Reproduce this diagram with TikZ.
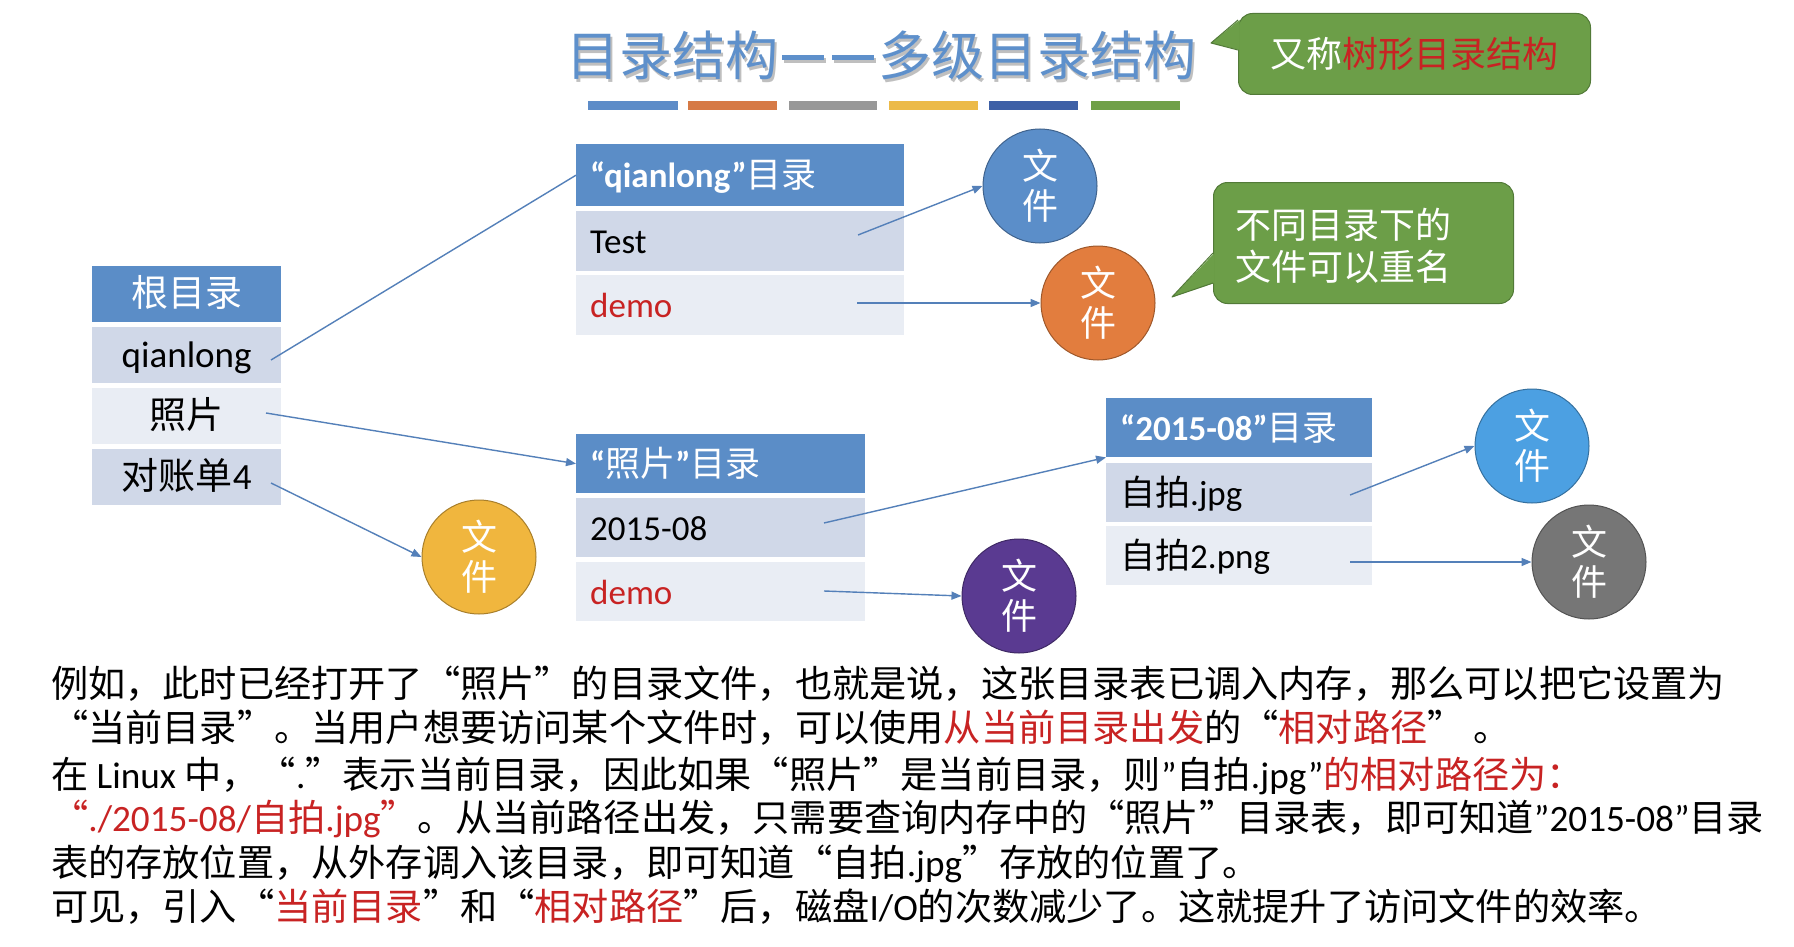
\documentclass[tikz,border=0pt]{standalone}
\usepackage{fontspec}
\setmainfont{Noto Sans CJK SC}
\newfontfamily\lat{Carlito}
\usetikzlibrary{arrows.meta}
\definecolor{hdr}{RGB}{91,141,199}
\definecolor{rowA}{RGB}{208,216,232}
\definecolor{rowB}{RGB}{233,237,244}
\definecolor{ttl}{RGB}{94,144,203}
\definecolor{redt}{RGB}{200,35,35}
\definecolor{arr}{RGB}{84,128,185}
\definecolor{grn}{RGB}{108,158,72}
\definecolor{grnD}{RGB}{82,122,56}
\definecolor{cblue}{RGB}{91,142,201}
\definecolor{corange}{RGB}{226,125,62}
\definecolor{cyellow}{RGB}{240,182,62}
\definecolor{cpurple}{RGB}{90,58,145}
\definecolor{clblue}{RGB}{76,160,226}
\definecolor{cgray}{RGB}{118,118,118}
\definecolor{bar1}{RGB}{93,140,200}
\definecolor{bar2}{RGB}{214,122,70}
\definecolor{bar3}{RGB}{152,152,152}
\definecolor{bar4}{RGB}{236,186,72}
\definecolor{bar5}{RGB}{62,96,166}
\definecolor{bar6}{RGB}{112,160,72}
\newcommand\myfs[1]{\fontsize{#1pt}{#1pt}\selectfont}
\newcommand\ttldash{\makebox[50pt]{\rule[15pt]{42pt}{5pt}}}
\begin{document}
\begin{tikzpicture}[x=1pt,y=-1pt,
  cellbase/.style={anchor=north west, inner ysep=0pt, text height=30pt, text depth=5pt},
  hcell/.style={cellbase, fill=hdr, text=white, inner xsep=14pt, align=left, font=\myfs{35}},
  acell/.style={cellbase, fill=rowA, text=black, inner xsep=14pt, align=left, font=\myfs{35}},
  bcell/.style={cellbase, fill=rowB, text=black, inner xsep=14pt, align=left, font=\myfs{35}},
  rhcell/.style={cellbase, fill=hdr, text=white, inner xsep=8pt, align=center, text width=173pt, minimum height=56pt, font=\myfs{37}},
  racell/.style={cellbase, fill=rowA, text=black, inner xsep=8pt, align=center, text width=173pt, minimum height=56pt, font=\myfs{37}},
  rbcell/.style={cellbase, fill=rowB, text=black, inner xsep=8pt, align=center, text width=173pt, minimum height=56pt, font=\myfs{37}},
  filenode/.style={circle, minimum size=114pt, inner sep=0pt, text=white, align=center, line width=1pt, font=\fontsize{36pt}{40pt}\selectfont},
  conn/.style={draw=arr, line width=1.4pt},
  arrow/.style={conn, -{Triangle[length=10pt,width=8pt]}},
  callout/.style={fill=grn, draw=grnD, line width=1pt, rounded corners=14pt},
  bodyline/.style={anchor=base west, inner sep=0pt, font=\myfs{37.2}, text=black}
]
\useasboundingbox (0,0) rectangle (1794,947);
\fill[white] (0,0) rectangle (1794,947);

% title
\node[text=black!25, font=\myfs{53}] at (883,58) {目录结构\ttldash\ttldash 多级目录结构};
\node[text=ttl, font=\myfs{53}] (title) at (881,55) {目录结构\ttldash\ttldash 多级目录结构};

% colour bars
\fill[bar1] (588,101) rectangle (678,110);
\fill[bar2] (688,101) rectangle (777,110);
\fill[bar3] (789,101) rectangle (877,110);
\fill[bar4] (889,101) rectangle (978,110);
\fill[bar5] (989,101) rectangle (1078,110);
\fill[bar6] (1091,101) rectangle (1180,110);

% callout 1
\node[callout, anchor=north west, minimum width=352pt, minimum height=81pt, inner sep=0pt, font=\myfs{36}, text=white] (co1) at (1238,13) {又称\textcolor{redt}{树形目录结构}};
\fill[grn] (1239.5,20) -- (1211,43) -- (1239.5,50) -- cycle;
\draw[grnD, line width=1pt, line join=round] (1238,20) -- (1211,43) -- (1238,50);

% callout 2
\node[callout, anchor=north west, minimum width=300pt, minimum height=121pt, inner sep=0pt] (co2) at (1213,182) {};
\fill[grn] (1214.5,253) -- (1172,297) -- (1214.5,283) -- cycle;
\draw[grnD, line width=1pt, line join=round] (1213,253) -- (1172,297) -- (1213,283);
\node[anchor=west, align=left, text=white, inner sep=0pt, font=\fontsize{36pt}{42pt}\selectfont] (co2t) at (1235,246) {不同目录下的\\文件可以重名};

% root table
\node[rhcell] (rh) at (92,266) {根目录};
\node[racell] (r1) at (92,327) {{\lat qianlong}};
\node[rbcell] (r2) at (92,388) {照片};
\node[racell] (r3) at (92,449) {对账单{\lat 4}};

% qianlong table
\node[hcell, text width=300pt, minimum height=62pt] (qh) at (576,144) {{\lat\bfseries “qianlong”}目录};
\node[acell, text width=300pt, minimum height=60pt] (q1) at (576,211) {{\lat Test}};
\node[bcell, text width=300pt, minimum height=60pt, text=redt] (q2) at (576,275) {{\lat demo}};

% photo table
\node[hcell, text width=261pt, minimum height=59pt] (ph) at (576,434) {{\lat\bfseries “}照片{\lat\bfseries ”}目录};
\node[acell, text width=261pt, minimum height=59pt] (p1) at (576,498) {{\lat 2015-08}};
\node[bcell, text width=261pt, minimum height=59pt, text=redt] (p2) at (576,562) {{\lat demo}};

% 2015-08 table
\node[hcell, text width=238pt, minimum height=59pt] (jh) at (1106,398) {{\lat\bfseries “2015-08”}目录};
\node[acell, text width=238pt, minimum height=59pt] (j1) at (1106,463) {自拍{\lat .jpg}};
\node[bcell, text width=238pt, minimum height=59pt] (j2) at (1106,526) {自拍{\lat 2.png}};

% files
\node[filenode, fill=cblue, draw=cblue!70!black] (cB) at (1040,186) {文\\件};
\node[filenode, fill=corange, draw=corange!70!black] (cO) at (1098,303) {文\\件};
\node[filenode, fill=cyellow, draw=cyellow!70!black] (cY) at (479,557) {文\\件};
\node[filenode, fill=cpurple, draw=cpurple!70!black] (cP) at (1019,596) {文\\件};
\node[filenode, fill=clblue, draw=clblue!70!black] (cL) at (1532,446) {文\\件};
\node[filenode, fill=cgray, draw=cgray!70!black] (cG) at (1589,562) {文\\件};

% connector start points
\coordinate (s1) at (271,360);
\coordinate (s2) at (266,413);
\coordinate (s3) at (271,483);
\coordinate (s4) at (858,235);
\coordinate (s5) at (857,303);
\coordinate (s6) at (824,523);
\coordinate (s7) at (824,591);
\coordinate (s8) at (1350,495);
\coordinate (s9) at (1350,562);

\draw[conn] (s1) -- (qh.west);
\draw[arrow] (s2) -- (ph.west);
\draw[arrow] (s3) -- (cY.west);
\draw[arrow] (s4) -- (cB.west);
\draw[arrow] (s5) -- (cO.west);
\draw[arrow] (s6) -- (jh.south west);
\draw[arrow] (s7) -- (cP.west);
\draw[arrow] (s8) -- (cL.west);
\draw[arrow] (s9) -- (cG.west);

% body text
\node[bodyline] (t1) at (51,697) {例如，此时已经打开了“照片”的目录文件，也就是说，这张目录表已调入内存，那么可以把它设置为};
\node[bodyline] (t2) at (51,741) {“当前目录”。当用户想要访问某个文件时，可以使用\textcolor{redt}{从当前目录出发}的“\textcolor{redt}{相对路径}” 。};
\node[bodyline] (t3) at (51,788) {在 {\lat Linux} 中，“{\lat .}”表示当前目录，因此如果“照片”是当前目录，则{\lat ”}自拍{\lat .jpg”}\textcolor{redt}{的相对路径为：}};
\node[bodyline] (t4) at (51,831) {\textcolor{redt}{“{\lat ./2015-08/}自拍{\lat .jpg}”}。从当前路径出发，只需要查询内存中的“照片”目录表，即可知道{\lat ”2015-08”}目录};
\node[bodyline] (t5) at (51,876) {表的存放位置，从外存调入该目录，即可知道“自拍{\lat .jpg}”存放的位置了。};
\node[bodyline] (t6) at (51,920) {可见，引入“\textcolor{redt}{当前目录}”和“\textcolor{redt}{相对路径}”后，磁盘{\lat I/O}的次数减少了。这就提升了访问文件的效率。};
\end{tikzpicture}
\end{document}
